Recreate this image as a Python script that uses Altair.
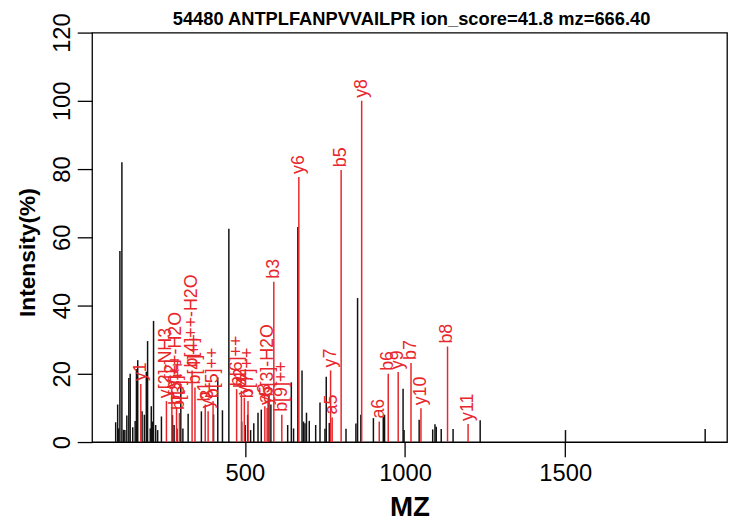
import altair as alt
import pandas as pd

TITLE = "54480 ANTPLFANPVVAILPR ion_score=41.8 mz=666.40"
RED = "#e8262b"
FONT = "Liberation Sans"

# unmatched peaks (black)
black_mz = [96.7, 102.9, 106.0, 109.9, 116.1, 121.3, 125.4, 131.5, 137.7, 142.0,
            150.0, 157.5, 161.5, 165.5, 179.1, 186.2, 192.3, 196.3, 204.7, 207.8,
            211.8, 214.9, 221.6, 227.8, 239.5, 274.1, 279.0, 288.0, 300.0, 306.5,
            322.9, 364.2, 402.2, 415.4, 430.0, 450.0, 490.0, 500.9, 508.6, 517.9,
            527.8, 541.0, 551.2, 575.0, 581.2, 633.6, 645.0, 652.0, 665.4, 678.4,
            683.0, 687.6, 692.3, 701.0, 721.0, 734.5, 750.0, 754.0, 763.5, 815.7,
            846.6, 851.8, 862.0, 901.2, 932.0, 936.0, 993.8, 996.9, 1044.0, 1086.3,
            1093.4, 1097.4, 1112.9, 1149.9, 1234.5, 1500.8, 1936.8]
black_int = [5.8, 11.0, 4.0, 56.0, 82.0, 3.6, 3.5, 7.8, 18.8, 20.0,
             4.3, 6.2, 21.4, 24.0, 9.0, 8.0, 20.6, 29.6, 4.0, 10.5,
             6.0, 35.5, 5.0, 3.5, 7.5, 7.9, 5.0, 4.0, 17.0, 4.0,
             8.3, 9.0, 8.1, 19.0, 9.3, 62.5, 6.0, 5.0, 8.0, 3.5,
             5.5, 8.6, 9.5, 14.0, 11.0, 5.0, 17.5, 4.0, 63.0, 21.0,
             6.0, 5.5, 8.6, 6.2, 5.0, 11.6, 3.9, 19.1, 5.6, 3.9,
             5.4, 42.2, 8.0, 7.0, 7.5, 8.0, 15.6, 3.5, 6.5, 3.7,
             5.2, 4.5, 3.8, 3.8, 6.4, 3.5, 3.8]

# matched (annotated) peaks (red)
ion_labels = ["y1", "y[2]-NH3", "y[2]", "b[3]++-H2O", "b[3]++", "b[4]++-H2O", "b[4]++",
              "b1", "y3", "b[5]++", "b[6]++", "b2", "y4", "b[7]++", "a3", "y5", "b[3]-H2O",
              "b3", "b[9]++", "y6", "y7", "a5", "b5", "y8", "a6", "b6", "y9", "b7",
              "y10", "b8", "y11"]
ion_mz = [175.12, 255.14, 272.17, 286.67, 295.67, 335.20, 344.20,
          376.25, 385.26, 400.74, 474.27, 489.29, 498.34, 509.79, 562.35, 569.38, 572.33,
          590.34, 615.34, 668.45, 767.52, 772.48, 800.48, 864.57, 919.50, 947.54, 978.60, 1018.58,
          1049.65, 1132.62, 1196.72]
ion_int = [17.0, 12.0, 15.0, 10.0, 8.5, 21.0, 16.0,
           11.0, 9.0, 12.0, 15.5, 15.0, 13.0, 12.0, 10.5, 10.0, 12.5,
           47.0, 8.0, 77.7, 21.0, 7.2, 79.7, 100.0, 6.0, 20.0, 20.5, 23.2,
           9.9, 28.0, 5.3]

peaks = pd.DataFrame({
    "mz": black_mz + ion_mz,
    "intensity": black_int + ion_int,
    "kind": ["other"] * len(black_mz) + ["matched"] * len(ion_mz),
})
ions = pd.DataFrame({"mz": ion_mz, "intensity": ion_int, "label": ion_labels})
title_df = pd.DataFrame({"t": [TITLE]})

xscale = alt.Scale(domain=[23, 2005], nice=False, zero=False)
yscale = alt.Scale(domain=[0, 120], nice=False)

x_axis = alt.Axis(
    values=[500, 1000, 1500], format="d", title="MZ", labelFontSize=24, labelPadding=5,
    tickSize=15, grid=False, domain=False, tickColor="black", tickWidth=1.3,
    labelColor="black", labelFont=FONT, titleFont=FONT, titleColor="black",
    titleFontSize=28, titleFontWeight="bold", titleY=74,
    titleBaseline="alphabetic", titleX=321, titleAlign="center")
y_axis = alt.Axis(
    values=[0, 20, 40, 60, 80, 100, 120], title="Intensity(%)", labelFontSize=24,
    labelAngle=270, labelAlign="center", labelBaseline="alphabetic", labelPadding=8,
    tickSize=15, grid=False, domain=False, tickColor="black", tickWidth=1.3,
    labelColor="black", labelFont=FONT, titleFont=FONT, titleColor="black",
    titleFontSize=23, titleFontWeight="bold", titleAngle=270,
    titleX=-65, titleY=222, titleAlign="center", titleBaseline="middle")

x_enc = alt.X("mz:Q", scale=xscale, axis=x_axis)
y_enc = alt.Y("intensity:Q", scale=yscale, axis=y_axis)

rules = alt.Chart(peaks).mark_rule(strokeWidth=1.5).encode(
    x=x_enc, y=y_enc, y2=alt.datum(0),
    color=alt.Color("kind:N", scale=alt.Scale(domain=["other", "matched"], range=["#111111", RED]), legend=None),
)

labels = alt.Chart(ions).mark_text(
    angle=270, align="left", baseline="middle", dx=3, fontSize=18, color=RED, font=FONT
).encode(x=x_enc, y=y_enc, text="label:N")

title = alt.Chart(title_df).mark_text(
    fontSize=18.5, fontWeight="bold", font=FONT, color="black", align="center", baseline="alphabetic"
).encode(x=alt.value(323), y=alt.value(-8), text="t:N")

chart = alt.layer(rules, labels, title).properties(
    width=642, height=414,
    background="white",
    autosize=alt.AutoSizeParams(type="none"),
    padding={"left": 85, "top": 22, "right": 1, "bottom": 80},
).configure_view(stroke="black", strokeWidth=1.3).configure_axis(
    domain=False, grid=False, tickColor="black", tickWidth=1.3, labelColor="black",
    titleColor="black", labelFont=FONT, titleFont=FONT,
)

chart.save("out.html", embed_options={"renderer": "svg", "actions": False})
